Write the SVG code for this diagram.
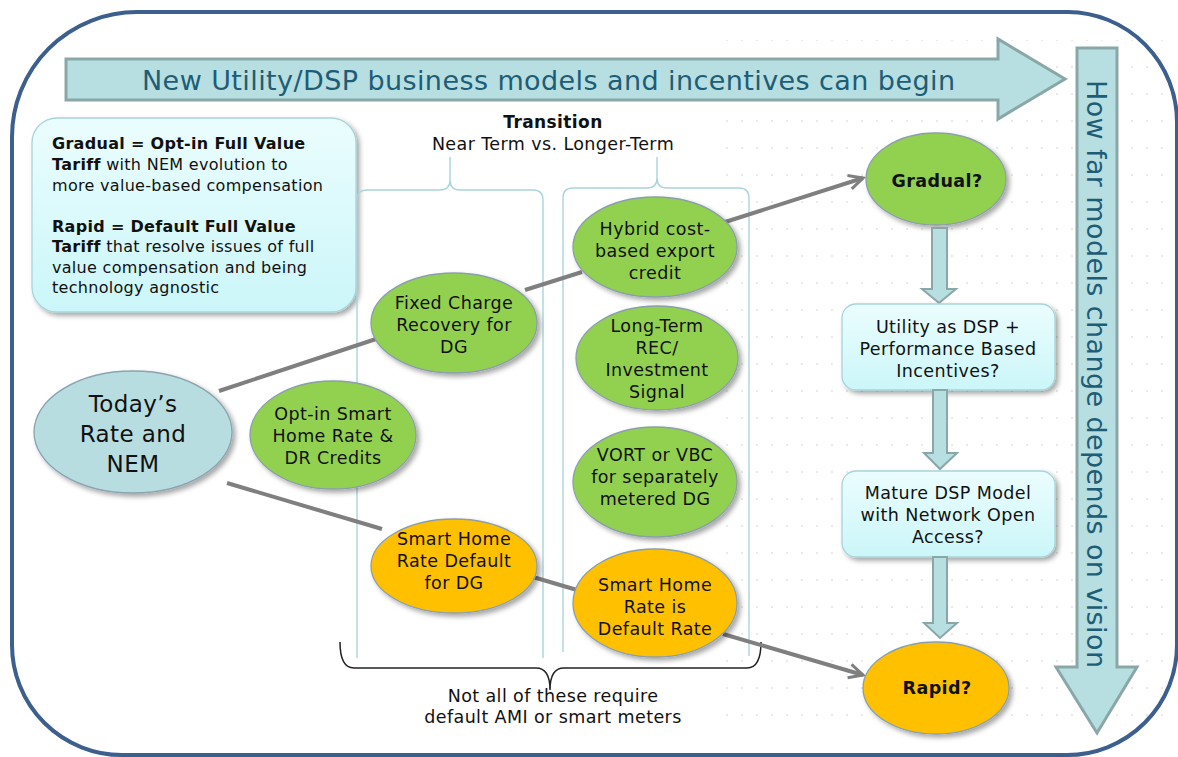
<svg xmlns="http://www.w3.org/2000/svg" width="1178" height="757" viewBox="0 0 1178 757">
<style>
text{font-family:"DejaVu Sans",Verdana,sans-serif;fill:#111;}
.t{font-size:17.5px;letter-spacing:0.4px;text-anchor:middle;}
.lb{font-size:16px;letter-spacing:0.3px;}
.b{font-weight:bold;}
.teal{fill:#1d5d75;font-size:27px;}
.brace{fill:none;stroke:#a9d4dc;stroke-width:1.4;}
.green{fill:#92d050;stroke:#8a9fab;stroke-width:1.3;}
.orange{fill:#ffc000;stroke:#8a9fab;stroke-width:1.3;}
.blue{fill:#b7dde1;stroke:#8aa3b0;stroke-width:1.3;}
.blk{fill:#b7dee1;stroke:#8aa7a8;stroke-width:3;}
.conn{stroke:#7f7f7f;stroke-width:4;fill:none;}
.box{fill:url(#boxg);stroke:#a8d4da;stroke-width:1.3;}
</style>
<defs>
<filter id="sh" x="-20%" y="-20%" width="150%" height="150%">
<feDropShadow dx="3" dy="3" stdDeviation="2.5" flood-color="#000" flood-opacity="0.35"/>
</filter>
<linearGradient id="boxg" x1="0" y1="0" x2="0" y2="1">
<stop offset="0" stop-color="#ebfdfe"/>
<stop offset="1" stop-color="#cbf6f9"/>
</linearGradient>
<pattern id="dots" width="15" height="27" patternUnits="userSpaceOnUse">
<circle cx="7" cy="13" r="1.1" fill="#e4e4e4"/>
</pattern>
<marker id="arr" viewBox="0 0 20 20" refX="17" refY="10" markerWidth="20" markerHeight="20" markerUnits="userSpaceOnUse" orient="auto">
<path d="M3,3 L17,10 L3,17" fill="none" stroke="#7f7f7f" stroke-width="3"/>
</marker>
</defs>
<rect width="1178" height="757" fill="#fff"/>
<rect x="720" y="40" width="455" height="685" fill="url(#dots)"/>
<path d="M137,12 L1068,12 A110,110 0 0 1 1177,122 L1177,645 A110,110 0 0 1 1067,755 L122,755 A110,110 0 0 1 12,645 L12,137 A125,125 0 0 1 137,12 Z" fill="none" stroke="#3c5f8d" stroke-width="4"/>

<g id="top-arrow">
<polygon class="blk" points="66,59 998,59 998,39 1065,79 998,119 998,100 66,100"/>
<text class="teal" x="142" y="90" textLength="813" lengthAdjust="spacing">New Utility/DSP business models and incentives can begin</text>
</g>
<g id="side-arrow">
<polygon class="blk" points="1077,48 1117,48 1117,667 1137,667 1097,733 1056,667 1077,667"/>
<text class="teal" transform="translate(1087,80) rotate(90)" x="0" y="0" textLength="588" lengthAdjust="spacing">How far models change depends on vision</text>
</g>

<g id="legend">
<rect class="box" x="32" y="118" width="324" height="194" rx="25" filter="url(#sh)"/>
<text class="lb" x="52" y="149"><tspan class="b">Gradual = Opt-in Full Value</tspan></text>
<text class="lb" x="52" y="170"><tspan class="b">Tariff</tspan> with NEM evolution to</text>
<text class="lb" x="52" y="191">more value-based compensation</text>
<text class="lb" x="52" y="232"><tspan class="b">Rapid = Default Full Value</tspan></text>
<text class="lb" x="52" y="252"><tspan class="b">Tariff</tspan> that resolve issues of full</text>
<text class="lb" x="52" y="273">value compensation and being</text>
<text class="lb" x="52" y="293">technology agnostic</text>
</g>

<g id="transition-header">
<text class="t b" x="553" y="128" style="font-size:17px">Transition</text>
<text class="t" x="553" y="150">Near Term vs. Longer-Term</text>
</g>

<g id="braces">
<path class="brace" d="M357,658 L357,200 Q357,190 367,190 L440,190 Q450,190 450,180 L450,157 M450,180 Q450,190 460,190 L533,190 Q543,190 543,200 L543,658"/>
<path class="brace" d="M563,652 L563,198 Q563,188 573,188 L647,188 Q657,188 657,178 L657,157 M657,178 Q657,188 667,188 L739,188 Q749,188 749,198 L749,656"/>
<path d="M340,642 Q340,668 354,668 L536,668 Q550,668 550,690 Q550,668 564,668 L747,668 Q761,668 761,642" fill="none" stroke="#222" stroke-width="1.5"/>
<text class="t" x="553" y="702">Not all of these require</text>
<text class="t" x="553" y="723">default AMI or smart meters</text>
</g>

<g id="connectors">
<line class="conn" x1="219" y1="391" x2="376" y2="339"/>
<line class="conn" x1="525" y1="290" x2="582" y2="272"/>
<line class="conn" x1="722" y1="223" x2="863" y2="178" marker-end="url(#arr)"/>
<line class="conn" x1="227" y1="483" x2="382" y2="529"/>
<line class="conn" x1="533" y1="577" x2="577" y2="590"/>
<line class="conn" x1="723" y1="634" x2="863" y2="675" marker-end="url(#arr)"/>
</g>

<g id="todays-rate">
<ellipse class="blue" cx="133" cy="432" rx="99" ry="61" filter="url(#sh)"/>
<text class="t" x="133" y="412" style="font-size:23px">Today’s</text>
<text class="t" x="133" y="442" style="font-size:23px">Rate and</text>
<text class="t" x="133" y="472" style="font-size:23px">NEM</text>
</g>

<g id="opt-in-smart-home">
<ellipse class="green" cx="333" cy="435" rx="83" ry="54" filter="url(#sh)"/>
<text class="t" x="333" y="420">Opt-in Smart</text>
<text class="t" x="333" y="442">Home Rate &amp;</text>
<text class="t" x="333" y="464">DR Credits</text>
</g>

<g id="fixed-charge">
<ellipse class="green" cx="454" cy="323" rx="83" ry="50" filter="url(#sh)"/>
<text class="t" x="454" y="309">Fixed Charge</text>
<text class="t" x="454" y="331">Recovery for</text>
<text class="t" x="454" y="353">DG</text>
</g>

<g id="hybrid">
<ellipse class="green" cx="655" cy="247" rx="82" ry="50" filter="url(#sh)"/>
<text class="t" x="655" y="235">Hybrid cost-</text>
<text class="t" x="655" y="257">based export</text>
<text class="t" x="655" y="279">credit</text>
</g>

<g id="long-term-rec">
<ellipse class="green" cx="657" cy="358" rx="81" ry="52" filter="url(#sh)"/>
<text class="t" x="657" y="332">Long-Term</text>
<text class="t" x="657" y="354">REC/</text>
<text class="t" x="657" y="376">Investment</text>
<text class="t" x="657" y="398">Signal</text>
</g>

<g id="vort">
<ellipse class="green" cx="655" cy="482" rx="82" ry="55" filter="url(#sh)"/>
<text class="t" x="655" y="461">VORT or VBC</text>
<text class="t" x="655" y="483">for separately</text>
<text class="t" x="655" y="505">metered DG</text>
</g>

<g id="smart-home-default-dg">
<ellipse class="orange" cx="454" cy="566" rx="83" ry="47" filter="url(#sh)"/>
<text class="t" x="454" y="545">Smart Home</text>
<text class="t" x="454" y="567">Rate Default</text>
<text class="t" x="454" y="589">for DG</text>
</g>

<g id="smart-home-default-rate">
<ellipse class="orange" cx="655" cy="603" rx="82" ry="54" filter="url(#sh)"/>
<text class="t" x="655" y="591">Smart Home</text>
<text class="t" x="655" y="613">Rate is</text>
<text class="t" x="655" y="635">Default Rate</text>
</g>

<g id="gradual">
<ellipse class="green" cx="936" cy="179" rx="70" ry="46" filter="url(#sh)"/>
<text class="t b" x="937" y="187">Gradual?</text>
</g>

<g id="utility-dsp">
<polygon class="blk" style="stroke-width:2" points="932,228 947,228 947,289 956,289 939,303 922,289 932,289"/>
<rect class="box" x="842" y="304" width="213" height="86" rx="14" filter="url(#sh)"/>
<text class="t" x="948" y="333">Utility as DSP +</text>
<text class="t" x="948" y="355">Performance Based</text>
<text class="t" x="948" y="377">Incentives?</text>
</g>

<g id="mature-dsp">
<polygon class="blk" style="stroke-width:2" points="933,390 947,390 947,453 957,453 940,469 924,453 933,453"/>
<rect class="box" x="842" y="471" width="213" height="86" rx="14" filter="url(#sh)"/>
<text class="t" x="948" y="499">Mature DSP Model</text>
<text class="t" x="948" y="521">with Network Open</text>
<text class="t" x="948" y="543">Access?</text>
</g>

<g id="rapid">
<polygon class="blk" style="stroke-width:2" points="933,557 947,557 947,623 957,623 940,638 924,623 933,623"/>
<ellipse class="orange" cx="936" cy="688" rx="73" ry="46" filter="url(#sh)"/>
<text class="t b" x="937" y="694">Rapid?</text>
</g>
</svg>
